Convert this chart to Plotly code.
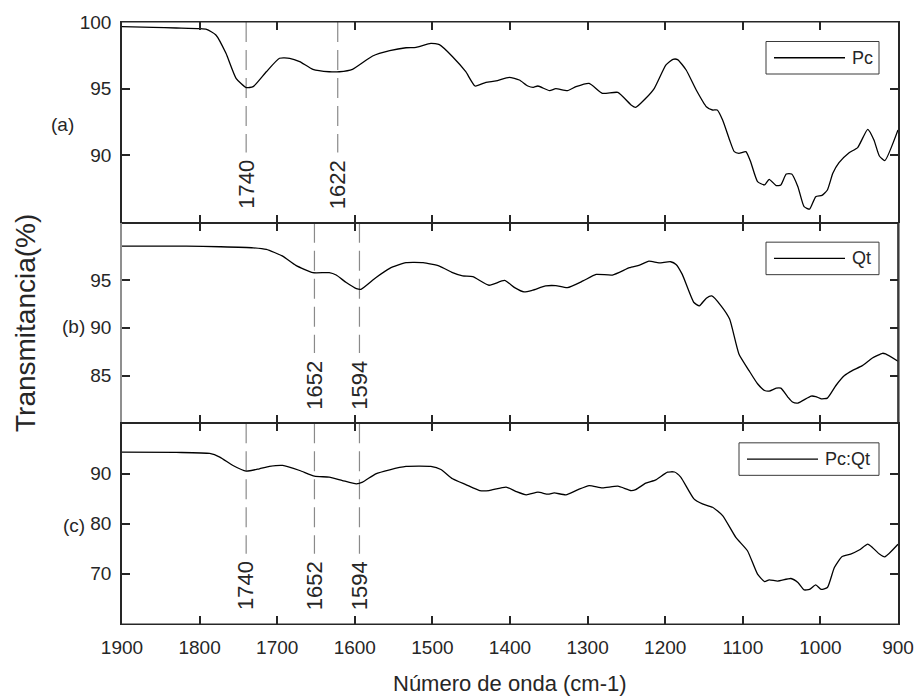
import plotly.graph_objects as go
from plotly.subplots import make_subplots

# ---- FTIR spectra (wavenumber in cm-1, transmittance in %) ----
wn_pc = [1900, 1860, 1830, 1800, 1791, 1779, 1766, 1753, 1740, 1731, 1714, 1697, 1684, 1671,
         1654, 1633, 1620, 1603, 1577, 1555, 1534, 1521, 1502, 1491, 1474, 1457, 1445, 1431,
         1418, 1401, 1388, 1377, 1370, 1364, 1349, 1341, 1326, 1315, 1298, 1281, 1261, 1244,
         1238, 1225, 1214, 1199, 1190, 1184, 1173, 1160, 1147, 1139, 1133, 1126, 1117, 1111,
         1105, 1096, 1090, 1081, 1072, 1066, 1057, 1051, 1044, 1037, 1029, 1021, 1014, 1006,
         998, 991, 984, 976, 963, 952, 939, 931, 924, 917, 900]
t_pc = [99.65, 99.6, 99.55, 99.5, 99.45, 99.03, 97.65, 95.78, 95.08, 95.15, 96.27, 97.28, 97.28, 97.03,
        96.45, 96.27, 96.27, 96.45, 97.45, 97.85, 98.07, 98.1, 98.4, 98.3, 97.4, 96.27, 95.2, 95.48,
        95.58, 95.85, 95.65, 95.2, 95.1, 95.2, 94.85, 95.0, 94.85, 95.15, 95.4, 94.65, 94.72, 93.78,
        93.6, 94.28, 95.03, 96.78, 97.2, 97.18, 96.4, 94.9, 93.65, 93.4, 93.4, 92.65, 91.15, 90.28,
        90.15, 90.28, 89.53, 88.03, 87.78, 88.2, 87.73, 87.78, 88.6, 88.6, 87.65, 86.15, 85.97, 86.9,
        87.0, 87.4, 88.65, 89.45, 90.2, 90.58, 91.95, 91.15, 89.95, 89.6, 91.9]

wn_qt = [1900, 1817, 1774, 1731, 1714, 1693, 1676, 1654, 1633, 1624, 1611, 1598, 1592, 1573,
         1555, 1534, 1512, 1491, 1474, 1461, 1448, 1427, 1407, 1394, 1382, 1371, 1354, 1341,
         1326, 1306, 1289, 1268, 1246, 1233, 1221, 1208, 1193, 1186, 1178, 1163, 1156, 1147,
         1140, 1128, 1117, 1105, 1092, 1081, 1072, 1066, 1057, 1051, 1042, 1036, 1029, 1012,
         1006, 999, 991, 980, 969, 959, 946, 933, 920, 916, 900]
t_qt = [98.54, 98.54, 98.48, 98.37, 98.2, 97.5, 96.53, 95.77, 95.77, 95.52, 94.73, 94.1, 94.03, 95.24,
        96.22, 96.81, 96.81, 96.46, 95.77, 95.42, 95.35, 94.45, 94.95, 94.2, 93.75, 93.93, 94.38, 94.41,
        94.2, 94.9, 95.59, 95.52, 96.29, 96.56, 96.98, 96.8, 96.91, 96.63, 95.59, 92.64, 92.3, 93.1,
        93.34, 92.3, 90.91, 87.26, 85.52, 84.14, 83.44, 83.37, 83.68, 83.68, 82.75, 82.23, 82.12, 82.85,
        82.8, 82.57, 82.64, 83.96, 85.0, 85.52, 86.04, 86.84, 87.33, 87.26, 86.5]

wn_pcqt = [1900, 1830, 1787, 1774, 1757, 1740, 1723, 1710, 1693, 1671, 1652, 1633, 1616, 1598,
           1590, 1573, 1555, 1534, 1502, 1489, 1474, 1457, 1439, 1427, 1405, 1392, 1379, 1364,
           1351, 1343, 1328, 1313, 1298, 1281, 1261, 1244, 1238, 1225, 1212, 1197, 1188, 1180,
           1163, 1152, 1139, 1126, 1109, 1094, 1081, 1072, 1066, 1055, 1038, 1029, 1021, 1014,
           1006, 999, 991, 982, 972, 961, 950, 939, 933, 924, 917, 900]
t_pcqt = [94.28, 94.2, 94.0, 93.28, 91.6, 90.47, 90.94, 91.4, 91.6, 90.6, 89.47, 89.27, 88.6, 87.94,
          88.27, 89.94, 90.74, 91.4, 91.4, 90.8, 88.94, 87.8, 86.6, 86.6, 87.3, 86.4, 85.74, 86.27,
          85.87, 86.14, 85.74, 86.74, 87.6, 87.14, 87.47, 86.6, 86.8, 88.07, 88.74, 90.27, 90.3, 89.27,
          84.94, 83.94, 83.27, 81.6, 77.27, 74.6, 69.94, 68.47, 68.8, 68.54, 69.07, 68.27, 66.8, 66.9,
          67.8, 66.9, 67.27, 71.27, 73.47, 73.94, 74.74, 75.94, 75.27, 73.94, 73.4, 75.9]

series_names = ["Pc", "Qt", "Pc:Qt"]
panel_tags = ["(a)", "(b)", "(c)"]
peaks = [[1740, 1622], [1652, 1594], [1740, 1652, 1594]]

y_ranges = [[84.95, 100], [80, 101], [60, 100]]
y_ticks = [[90, 95, 100], [85, 90, 95], [70, 80, 90]]
x_ticks = list(range(1900, 899, -100))

# ---- styling ----
FONT = "Liberation Sans, Arial, sans-serif"
INK = "#262626"
W, H = 917, 700
ML, MR, MT, MB = 122, 19, 22, 76
PW = W - ML - MR
PH = (H - MT - MB) / 3.0

fig = make_subplots(rows=3, cols=1, shared_xaxes=True, vertical_spacing=0)

data = [(wn_pc, t_pc), (wn_qt, t_qt), (wn_pcqt, t_pcqt)]
for i, (xs, ys) in enumerate(data):
    fig.add_trace(go.Scatter(x=xs, y=ys, mode="lines", name=series_names[i],
                             line=dict(color="black", width=1.3, shape="spline", smoothing=0.5),
                             showlegend=False), row=i + 1, col=1)

for i in range(3):
    r = i + 1
    fig.update_xaxes(range=[1900, 900], tickvals=x_ticks, ticks="inside", ticklen=8, tickwidth=1.5,
                     tickcolor=INK, showline=True, linecolor=INK, linewidth=1.1, mirror="ticks",
                     showgrid=False, zeroline=False, showticklabels=(r == 3), automargin=False,
                     ticklabelstandoff=6,
                     tickfont=dict(family=FONT, size=19, color=INK), row=r, col=1)
    fig.update_yaxes(range=y_ranges[i], tickvals=y_ticks[i], ticks="inside", ticklen=8, tickwidth=1.5,
                     tickcolor=INK, showline=True, linecolor=("#8f8f8f" if r == 2 else INK),
                     linewidth=1.6, mirror="ticks", showgrid=False, zeroline=False,
                     ticklabelstandoff=5, automargin=False,
                     tickfont=dict(family=FONT, size=19, color=INK), row=r, col=1)

shapes = []
annotations = []


def ax_names(i):
    sfx = "" if i == 0 else str(i + 1)
    return "x" + sfx, "y" + sfx


# right spine of the middle panel in dark ink
shapes.append(dict(type="line", xref="x2 domain", yref="y2 domain", x0=1, x1=1, y0=0, y1=1,
                   line=dict(color=INK, width=1.6), layer="above"))
# heavier outer frame edges at the very top and bottom
shapes.append(dict(type="line", xref="x domain", yref="y domain", x0=0, x1=1, y0=1, y1=1,
                   line=dict(color=INK, width=1), layer="above"))
shapes.append(dict(type="line", xref="x3 domain", yref="y3 domain", x0=0, x1=1, y0=0, y1=0,
                   line=dict(color=INK, width=1), layer="above"))

for i in range(3):
    xr, yr = ax_names(i)
    # dashed guide lines and rotated band labels
    for p in peaks[i]:
        shapes.append(dict(type="line", xref=xr, yref=yr + " domain", x0=p, x1=p, y0=1, y1=0.35,
                           line=dict(color="#8a8a8a", width=1.2, dash="20px,8px"), layer="below"))
        annotations.append(dict(x=p, y=0.058, xref=xr, yref=yr + " domain", text=str(p),
                                textangle=-90, showarrow=False, xanchor="center", yanchor="bottom",
                                font=dict(family=FONT, size=22, color=INK)))

    # boxed legend in the upper right corner
    box_w = 140 if series_names[i] == "Pc:Qt" else 113
    right = 1 - 19.0 / PW
    left = right - box_w / PW
    top = 1 - 19.5 / PH
    bottom = top - 32.5 / PH
    mid = (top + bottom) / 2
    shapes.append(dict(type="rect", xref=xr + " domain", yref=yr + " domain", x0=left, x1=right,
                       y0=bottom, y1=top, line=dict(color="#3a3a3a", width=1), fillcolor="white",
                       layer="above"))
    l0 = left + 8.0 / PW
    l1 = l0 + 71.0 / PW
    shapes.append(dict(type="line", xref=xr + " domain", yref=yr + " domain", x0=l0, x1=l1,
                       y0=mid, y1=mid, line=dict(color="black", width=1.3), layer="above"))
    annotations.append(dict(x=l1 + 5.0 / PW, y=mid, xref=xr + " domain", yref=yr + " domain",
                            text=series_names[i], showarrow=False, xanchor="left", yanchor="middle",
                            font=dict(family=FONT, size=18, color=INK)))

# panel tags on the left
tag_pos = [(62.7, 125.0), (73.7, 326.7), (74.0, 525.0)]
for tag, (px, py) in zip(panel_tags, tag_pos):
    annotations.append(dict(x=(px - ML) / PW, y=(H - MB - py) / (H - MT - MB), xref="paper", yref="paper",
                            text=tag, showarrow=False, xanchor="center", yanchor="middle",
                            font=dict(family=FONT, size=19, color=INK)))

# axis titles
annotations.append(dict(x=(25 - ML) / PW, y=0.5, xref="paper", yref="paper", text="Transmitancia(%)",
                        textangle=-90, showarrow=False, xanchor="center", yanchor="middle",
                        font=dict(family=FONT, size=28, color=INK)))
annotations.append(dict(x=0.5, y=(H - MB - 683) / (H - MT - MB), xref="paper", yref="paper",
                        text="Número de onda (cm-1)", showarrow=False, xanchor="center", yanchor="middle",
                        font=dict(family=FONT, size=22, color=INK)))

fig.update_layout(width=W, height=H, margin=dict(l=ML, r=MR, t=MT, b=MB, autoexpand=False),
                  paper_bgcolor="white", plot_bgcolor="white", showlegend=False,
                  shapes=shapes, annotations=annotations,
                  font=dict(family=FONT, color=INK))

fig.write_html("out.html")
